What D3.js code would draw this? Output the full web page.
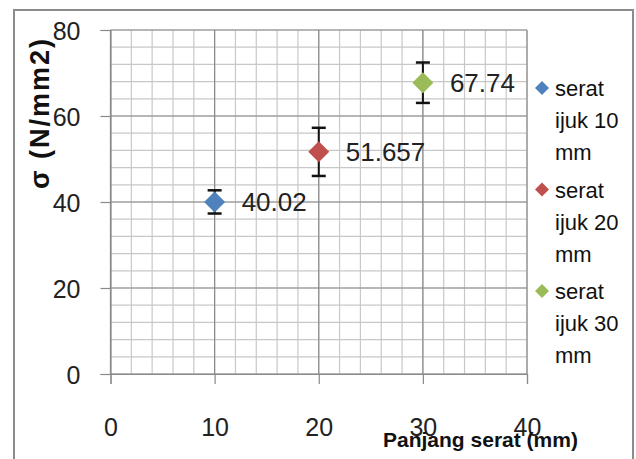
<!DOCTYPE html>
<html><head><meta charset="utf-8">
<script src="https://cdn.jsdelivr.net/npm/d3@7"></script>
<style>html,body{margin:0;padding:0;background:#fff;}svg{display:block;}</style>
</head><body>
<svg id="chart" width="636" height="459"></svg>
<script>
const seriesNames = ["serat ijuk 10 mm", "serat ijuk 20 mm", "serat ijuk 30 mm"];
const legendLines = [["serat", "ijuk 10", "mm"], ["serat", "ijuk 20", "mm"], ["serat", "ijuk 30", "mm"]];
const xValues = [10, 20, 30];
const yValues = [40.02, 51.657, 67.74];
const errValues = [2.7, 5.6, 4.7];
const dataLabels = ["40.02", "51.657", "67.74"];
const colors = ["#4F81BD", "#C0504D", "#9BBB59"];
const xTicks = [0, 10, 20, 30, 40];
const yTicks = [0, 20, 40, 60, 80];
const xMinor = d3.range(0, 40.01, 2);
const yMinor = d3.range(0, 80.01, 4);

const svg = d3.select("#chart");
const FONT = "'Liberation Sans', Arial, sans-serif";

svg.append("rect").attr("x", 0).attr("y", 0).attr("width", 636).attr("height", 459).attr("fill", "#fff");
// chart frame
svg.append("rect").attr("x", 14).attr("y", 10).attr("width", 619).attr("height", 470)
  .attr("fill", "#fff").attr("stroke", "#8c8c8c").attr("stroke-width", 2);

const x = d3.scaleLinear().domain([0, 40]).range([110.5, 527]);
const y = d3.scaleLinear().domain([0, 80]).range([374, 30]);

const g = svg.append("g");
// minor grid
g.selectAll("line.xminor").data(xMinor).join("line")
  .attr("x1", d => x(d)).attr("x2", d => x(d)).attr("y1", y(0)).attr("y2", y(80))
  .attr("stroke", "#c8c8c8").attr("stroke-width", 1.2);
g.selectAll("line.yminor").data(yMinor).join("line")
  .attr("x1", x(0)).attr("x2", x(40)).attr("y1", d => y(d)).attr("y2", d => y(d))
  .attr("stroke", "#c8c8c8").attr("stroke-width", 1.2);
// major grid
g.selectAll("line.xmajor").data(xTicks).join("line")
  .attr("x1", d => x(d)).attr("x2", d => x(d)).attr("y1", y(0)).attr("y2", y(80))
  .attr("stroke", "#8a8a8a").attr("stroke-width", 1.2);
g.selectAll("line.ymajor").data(yTicks).join("line")
  .attr("x1", x(0)).attr("x2", x(40)).attr("y1", d => y(d)).attr("y2", d => y(d))
  .attr("stroke", "#8a8a8a").attr("stroke-width", 1.2);

// axes
const xAxis = d3.axisBottom(x).tickValues(xTicks).tickSize(10).tickPadding(34);
const yAxis = d3.axisLeft(y).tickValues(yTicks).tickSize(10).tickPadding(20);
const gx = svg.append("g").attr("transform", `translate(0,${y(0)})`).call(xAxis);
const gy = svg.append("g").attr("transform", `translate(${x(0)},0)`).call(yAxis);
[gx, gy].forEach(a => {
  a.select(".domain").attr("stroke", "#8a8a8a").attr("stroke-width", 1.2);
  a.selectAll(".tick line").attr("stroke", "#8a8a8a").attr("stroke-width", 1.2);
  a.selectAll(".tick text").attr("fill", "#222").attr("font-family", FONT).attr("font-size", 25);
});
gy.selectAll(".tick text").attr("dy", "0.36em");

// error bars
const eb = svg.append("g");
xValues.forEach((xv, i) => {
  const cx = x(xv), top = y(yValues[i] + errValues[i]), bot = y(yValues[i] - errValues[i]);
  eb.append("line").attr("x1", cx).attr("x2", cx).attr("y1", top).attr("y2", bot).attr("stroke", "#111").attr("stroke-width", 2);
  eb.append("line").attr("x1", cx - 7).attr("x2", cx + 7).attr("y1", top).attr("y2", top).attr("stroke", "#111").attr("stroke-width", 2.5);
  eb.append("line").attr("x1", cx - 7).attr("x2", cx + 7).attr("y1", bot).attr("y2", bot).attr("stroke", "#111").attr("stroke-width", 2.5);
});

function diamond(r) { return `M0,${-r}L${r},0L0,${r}L${-r},0Z`; }

// markers
svg.append("g").selectAll("path").data(xValues).join("path")
  .attr("d", diamond(10.5))
  .attr("transform", (d, i) => `translate(${x(d)},${y(yValues[i])})`)
  .attr("fill", (d, i) => colors[i]);

// data labels
svg.append("g").selectAll("text").data(dataLabels).join("text")
  .attr("x", (d, i) => x(xValues[i]) + 27)
  .attr("y", (d, i) => y(yValues[i]))
  .attr("dy", "0.36em")
  .attr("font-family", FONT).attr("font-size", 26).attr("fill", "#222")
  .text(d => d);

// legend
const lg = svg.append("g");
seriesNames.forEach((s, i) => {
  const baseY = 88 + i * 101.5;
  lg.append("path").attr("d", diamond(7)).attr("transform", `translate(542,${baseY})`).attr("fill", colors[i]);
  legendLines[i].forEach((ln, j) => {
    lg.append("text").attr("x", 555).attr("y", baseY + 8 + j * 32)
      .attr("font-family", FONT).attr("font-size", 22).attr("fill", "#111").text(ln);
  });
});

// axis titles
svg.append("text").attr("x", 383).attr("y", 447)
  .attr("font-family", FONT).attr("font-size", 21).attr("font-weight", "bold").attr("fill", "#111")
  .text("Panjang serat (mm)");
svg.append("text").attr("transform", "translate(49,113) rotate(-90)")
  .attr("text-anchor", "middle").attr("letter-spacing", 2)
  .attr("font-family", FONT).attr("font-size", 27).attr("font-weight", "bold").attr("fill", "#111")
  .text("σ (N/mm2)");
</script>
</body></html>
